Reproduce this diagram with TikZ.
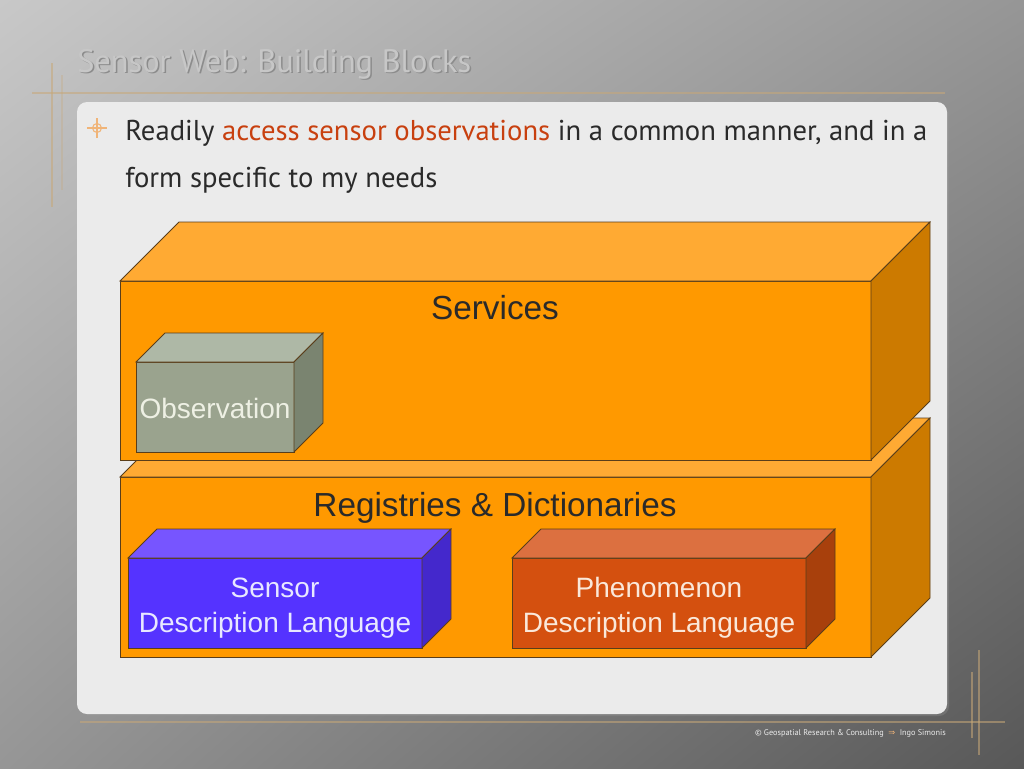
\documentclass[tikz,border=0pt]{standalone}
\usepackage{fontspec}
\setmainfont{PT Sans}
\newfontfamily\boxfont{Liberation Sans}
\newfontfamily\symfont{DejaVu Sans}
\usetikzlibrary{positioning, shadings}
\definecolor{BgUL}{HTML}{C8C8C8}
\definecolor{BgUR}{HTML}{969696}
\definecolor{BgLL}{HTML}{969696}
\definecolor{BgLR}{HTML}{585858}
\definecolor{PanelBg}{HTML}{EBEBEB}
\definecolor{EdgeColor}{HTML}{5A3E1A}
\definecolor{OrangeFront}{HTML}{FF9900}
\definecolor{OrangeTop}{HTML}{FFAA33}
\definecolor{OrangeSide}{HTML}{CC7A00}
\definecolor{GreyFront}{HTML}{9AA38E}
\definecolor{GreyTop}{HTML}{AEB8A6}
\definecolor{GreySide}{HTML}{7A8470}
\definecolor{BlueFront}{HTML}{5533FF}
\definecolor{BlueTop}{HTML}{7755FF}
\definecolor{BlueSide}{HTML}{4428CC}
\definecolor{RustFront}{HTML}{D4500F}
\definecolor{RustTop}{HTML}{DC7040}
\definecolor{RustSide}{HTML}{A8400C}
\definecolor{HighlightRed}{HTML}{C8400F}
\definecolor{TextDark}{HTML}{2A2A2A}
\definecolor{DecoLine}{HTML}{C8A878}
\definecolor{BulletColor}{HTML}{F0B478}
\definecolor{ObsText}{HTML}{EEF0E4}
\definecolor{SensorText}{HTML}{E8E8FF}
\definecolor{PhenText}{HTML}{FAE8DA}

% cuboid: x, y, width, height, depth, front, top, side (pixel units, y down)
\newcommand{\cuboid}[8]{%
  \filldraw[edge, fill=#6] (#1,#2) rectangle (#1+#3,#2+#4);
  \filldraw[edge, fill=#7] (#1,#2) -- (#1+#5,#2-#5) -- (#1+#3+#5,#2-#5) -- (#1+#3,#2) -- cycle;
  \filldraw[edge, fill=#8] (#1+#3,#2) -- (#1+#3+#5,#2-#5) -- (#1+#3+#5,#2+#4-#5) -- (#1+#3,#2+#4) -- cycle;
}

\begin{document}
\begin{tikzpicture}[
    x=0.75pt, y=-0.75pt,
    edge/.style={draw=EdgeColor, line width=0.6pt, line join=miter},
    layerlabel/.style={font=\boxfont\fontsize{25}{30}\selectfont, text=TextDark},
    blocklabel/.style={align=center, font=\boxfont\fontsize{21}{26.25}\selectfont, inner sep=0pt},
    footer/.style={font=\fontsize{6.2}{8}\selectfont, text=black!8, inner sep=0pt},
    deco/.style={DecoLine, line width=0.8pt, opacity=0.55}
  ]
    % Background
    \shade[upper left=BgUL, upper right=BgUR, lower left=BgLL, lower right=BgLR]
      (0,0) rectangle (1024,768);
    \useasboundingbox (0,0) rectangle (1024,768);

    % Decorative lines
    \draw[deco] (32,93) -- (945,93);
    \draw[deco] (52,63) -- (52,207);
    \draw[deco, opacity=0.3] (62,75) -- (62,190);
    \draw[deco] (80,722) -- (1005,722);
    \draw[deco] (972,672) -- (972,738);
    \draw[deco] (979,650) -- (979,755);

    % Title
    \node[anchor=base west, inner sep=0pt, font=\fontsize{24.3}{30}\selectfont, text=black!45] at (78.5,73.5) {Sensor Web: Building Blocks};
    \node[anchor=base west, inner sep=0pt, font=\fontsize{24.3}{30}\selectfont, text=black!22] at (77,72) (title) {Sensor Web: Building Blocks};

    % Panel
    \fill[black!40, opacity=0.3, rounded corners=7.5pt] (79,104) rectangle (949,716);
    \fill[PanelBg, rounded corners=7.5pt] (77,102) rectangle (947,714);

    % Bullet
    \draw[BulletColor, line width=0.8pt] (97,128) circle (4.5);
    \draw[BulletColor, line width=0.8pt] (87,128) -- (107,128) (97,118) -- (97,138);

    \node[anchor=base west, align=left, inner sep=0pt, text=TextDark,
          font=\fontsize{21.5}{35.25}\selectfont] at (125,187) (bullet)
      {Readily \textcolor{HighlightRed}{access sensor observations} in a common manner, and in a\\
       form specific to my needs};

    % Layers
    \cuboid{120}{477}{751}{180}{59}{OrangeFront}{OrangeTop}{OrangeSide}
    \cuboid{120}{281}{751}{179}{59}{OrangeFront}{OrangeTop}{OrangeSide}

    % Blocks
    \cuboid{136}{362}{158}{90}{29}{GreyFront}{GreyTop}{GreySide}
    \cuboid{128}{558}{294}{90}{29}{BlueFront}{BlueTop}{BlueSide}
    \cuboid{512}{558}{294}{90}{29}{RustFront}{RustTop}{RustSide}

    % Labels
    \node[layerlabel] at (495,308) (services) {Services};
    \node[layerlabel] at (495,508) (registries) {Registries \& Dictionaries};
    \node[blocklabel, text=ObsText] at (215,408) (observation) {Observation};
    \node[blocklabel, text=SensorText] at (275,608) (sensor) {Sensor\\Description Language};
    \node[blocklabel, text=PhenText] at (659,608) (phenomenon) {Phenomenon\\Description Language};

    % Footer
    \node[footer, anchor=east] at (946,733) (author) {Ingo Simonis};
    \node[footer, font=\symfont\fontsize{6.2}{8}\selectfont, text=BulletColor, left=3pt of author] (sep) {⇒};
    \node[footer, left=3pt of sep] (copyright) {© Geospatial Research \& Consulting};
\end{tikzpicture}
\end{document}
